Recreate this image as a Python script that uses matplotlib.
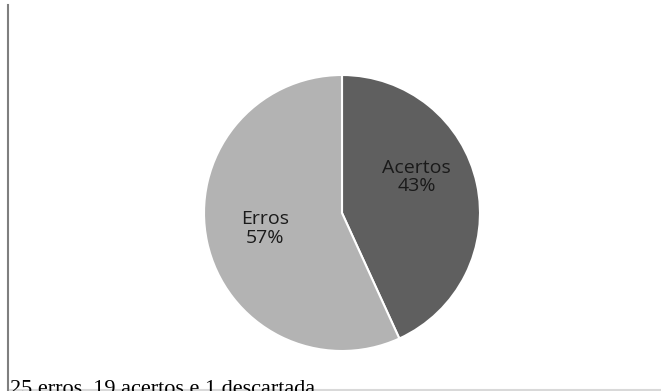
import matplotlib.pyplot as plt
from matplotlib.lines import Line2D

labels = ["Acertos", "Erros"]
counts = [19, 25]
colors = ["#5f5f5f", "#b3b3b3"]
caption = "25 erros, 19 acertos e 1 descartada"

fig = plt.figure(figsize=(6.61, 3.91), dpi=100)
fig.patch.set_facecolor("white")

# pie axes: centre ~ (342, 213) px, radius ~138 px
r = 138
cx, cy = 342, 391 - 213
ax = fig.add_axes([(cx - r) / 661, (cy - r) / 391, 2 * r / 661, 2 * r / 391])
total = sum(counts)
wedges, _ = ax.pie(counts, colors=colors, startangle=90, counterclock=False,
                   radius=1.0, wedgeprops=dict(edgecolor="white", linewidth=1.5))
ax.set_xlim(-1, 1)
ax.set_ylim(-1, 1)
ax.set_aspect("equal")
ax.axis("off")

label_pos = [(0.54, 0.26), (-0.56, -0.11)]
for lab, c, (x, y) in zip(labels, counts, label_pos):
    pct = round(100 * c / total)
    ax.text(x, y, f"{lab}\n{pct}%", ha="center", va="center", fontsize=14,
            family="Open Sans", color="#1a1a1a", linespacing=1.05)

# left frame line and bottom rule
fig.add_artist(Line2D([7.5 / 661, 7.5 / 661], [0, 1 - 5 / 391], color="#7f7f7f", lw=1.5))
fig.add_artist(Line2D([10 / 661, 1], [1.2 / 391, 1.2 / 391], color="#d9d9d9", lw=1.5))

fig.text(10 / 661, -8 / 391, caption, ha="left", va="bottom", fontsize=16,
         family="Liberation Serif", color="black")

fig.savefig("out.png", dpi=100)
